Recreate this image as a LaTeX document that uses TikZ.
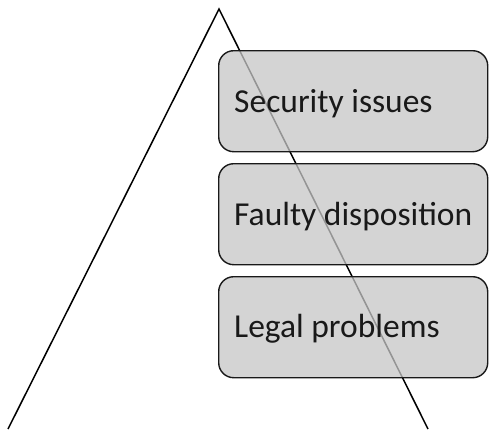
\documentclass[tikz,border=0pt]{standalone}
\usepackage{fontspec}
\setmainfont{Carlito}
\begin{document}
\begin{tikzpicture}[x=1pt,y=-1pt,
  itembox/.style={draw=black!90,line width=1.4pt,rounded corners=15pt,fill=gray!45,fill opacity=0.75,text opacity=1,
    minimum width=269pt,minimum height=101pt,inner sep=0pt,anchor=north west},
  itemtext/.style={anchor=west,font=\fontsize{33.5}{38}\selectfont,text=black!90,inner sep=0pt}]
\useasboundingbox (0,0) rectangle (489,429);
\coordinate (bl) at (8,429);
\coordinate (apex) at (219,9);
\coordinate (br) at (428,429);
\draw[line width=1.5pt] (bl) -- (apex) -- (br);
\node[itembox] (b1) at (218,50) {};
\node[itembox] (b2) at (218,163) {};
\node[itembox] (b3) at (218,276) {};
\node[itemtext] (t1) at ([xshift=16pt,yshift=-2pt]b1.west) {Security issues};
\node[itemtext] (t2) at ([xshift=16pt,yshift=-2pt]b2.west) {Faulty disposition};
\node[itemtext] (t3) at ([xshift=16pt,yshift=-2pt]b3.west) {Legal problems};
\end{tikzpicture}
\end{document}
